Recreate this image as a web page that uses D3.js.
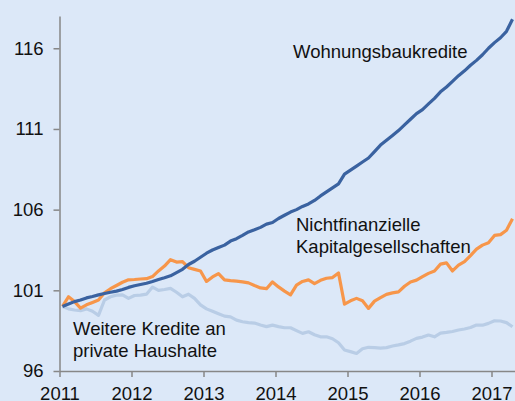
<!DOCTYPE html>
<html>
<head>
<meta charset="utf-8">
<script src="https://cdn.jsdelivr.net/npm/d3@7"></script>
<style>
  body { margin: 0; background: #dce8f8; }
  svg { display: block; font-family: "Liberation Sans", Arial, sans-serif; }
  .axis path, .axis line { stroke: #878787; stroke-width: 1.5; }
  .axis text { fill: #111; font-size: 18.5px; font-family: "Liberation Sans", Arial, sans-serif; }
  .lbl { fill: #111; font-size: 18.5px; }
</style>
</head>
<body>
<script>
// monthly index values, Jan 2011 .. Apr 2017
var wohnungsbau = [100.0, 100.15, 100.3, 100.4, 100.53, 100.62, 100.72, 100.8, 100.88, 100.95, 101.05, 101.18,
  101.28, 101.36, 101.44, 101.55, 101.67, 101.78, 101.9, 102.1, 102.3, 102.6, 102.8, 103.05,
  103.3, 103.5, 103.65, 103.8, 104.05, 104.2, 104.4, 104.62, 104.75, 104.9, 105.1, 105.2,
  105.45, 105.65, 105.85, 106.0, 106.2, 106.35, 106.57, 106.85, 107.1, 107.35, 107.6, 108.2,
  108.45, 108.7, 108.95, 109.2, 109.6, 110.0, 110.3, 110.6, 110.9, 111.25, 111.6, 111.95,
  112.2, 112.55, 112.9, 113.3, 113.6, 113.95, 114.3, 114.6, 114.95, 115.25, 115.6, 116.0,
  116.35, 116.65, 117.05, 117.8];

var nichtfinanz = [100.0, 100.6, 100.3, 99.9, 100.1, 100.25, 100.4, 100.85, 101.1, 101.3, 101.5, 101.65,
  101.67, 101.7, 101.72, 101.85, 102.2, 102.5, 102.9, 102.75, 102.78, 102.4, 102.3, 102.2,
  101.55, 101.83, 102.04, 101.65, 101.6, 101.57, 101.52, 101.46, 101.3, 101.15, 101.1, 101.52,
  101.21, 100.95, 100.72, 101.32, 101.55, 101.65, 101.42, 101.62, 101.75, 101.79, 102.08, 100.14,
  100.35, 100.5, 100.35, 99.88, 100.33, 100.55, 100.75, 100.84, 100.9, 101.25, 101.52, 101.63,
  101.85, 102.05, 102.2, 102.62, 102.7, 102.2, 102.56, 102.78, 103.15, 103.55, 103.8, 103.95,
  104.4, 104.45, 104.72, 105.44];

var weitere = [100.0, 99.85, 99.78, 99.74, 99.85, 99.7, 99.45, 100.4, 100.6, 100.7, 100.72, 100.5,
  100.68, 100.7, 100.76, 101.2, 101.0, 101.05, 101.12, 100.88, 100.6, 100.76, 100.5, 100.1,
  99.85, 99.7, 99.55, 99.4, 99.35, 99.15, 99.05, 99.0, 98.97, 98.85, 98.75, 98.84,
  98.75, 98.68, 98.68, 98.5, 98.33, 98.43, 98.25, 98.12, 98.12, 98.0, 97.75, 97.3,
  97.2, 97.09, 97.38, 97.47, 97.45, 97.42, 97.45, 97.55, 97.62, 97.7, 97.85, 98.02,
  98.1, 98.23, 98.12, 98.35, 98.39, 98.45, 98.54, 98.6, 98.7, 98.85, 98.84, 98.95,
  99.11, 99.1, 99.0, 98.74];

var startYear = 2011;
var yearTicks = [2011, 2012, 2013, 2014, 2015, 2016, 2017];
var yTicks = [96, 101, 106, 111, 116];

var w = 515, h = 401;
var margin = {top: 16, left: 59.5, bottom: 30};

var svg = d3.select("body").append("svg")
  .attr("width", w)
  .attr("height", h);

svg.append("rect").attr("width", w).attr("height", h).attr("fill", "#dce8f8");

var xScale = d3.scaleLinear()
  .domain([2011, 2011 + (w - margin.left) / 72])
  .range([margin.left, w]);

var yScale = d3.scaleLinear()
  .domain([96, 118])
  .range([371, margin.top]);

var xAxis = d3.axisBottom(xScale)
  .tickValues(yearTicks)
  .tickFormat(d3.format("d"))
  .tickSize(6)
  .tickPadding(10)
  .tickSizeOuter(0);

var yAxis = d3.axisLeft(yScale)
  .tickValues(yTicks)
  .tickSize(6)
  .tickPadding(10)
  .tickSizeOuter(0);

svg.append("g")
  .attr("class", "axis")
  .attr("transform", "translate(0," + yScale(96) + ")")
  .call(xAxis);

svg.append("g")
  .attr("class", "axis")
  .attr("transform", "translate(" + margin.left + ",0)")
  .call(yAxis);

// month i sits in the middle of its month
var line = d3.line()
  .x(function(d, i) { return xScale(startYear + (i + 0.5) / 12); })
  .y(function(d) { return yScale(d); });

var series = [
  {values: weitere, color: "#b9cde6"},
  {values: nichtfinanz, color: "#f7964a"},
  {values: wohnungsbau, color: "#3a62a0"}
];

series.forEach(function(s) {
  svg.append("path")
    .datum(s.values)
    .attr("d", line)
    .attr("fill", "none")
    .attr("stroke", s.color)
    .attr("stroke-width", 3.2)
    .attr("stroke-linejoin", "round");
});

// labels
var labels = [
  {lines: ["Wohnungsbaukredite"], x: 293, y: 58},
  {lines: ["Nichtfinanzielle", "Kapitalgesellschaften"], x: 296, y: 231},
  {lines: ["Weitere Kredite an", "private Haushalte"], x: 73, y: 335}
];

labels.forEach(function(l) {
  var t = svg.append("text").attr("class", "lbl").attr("x", l.x).attr("y", l.y);
  l.lines.forEach(function(s, i) {
    t.append("tspan").attr("x", l.x).attr("dy", i == 0 ? 0 : 22).text(s);
  });
});
</script>
</body>
</html>
